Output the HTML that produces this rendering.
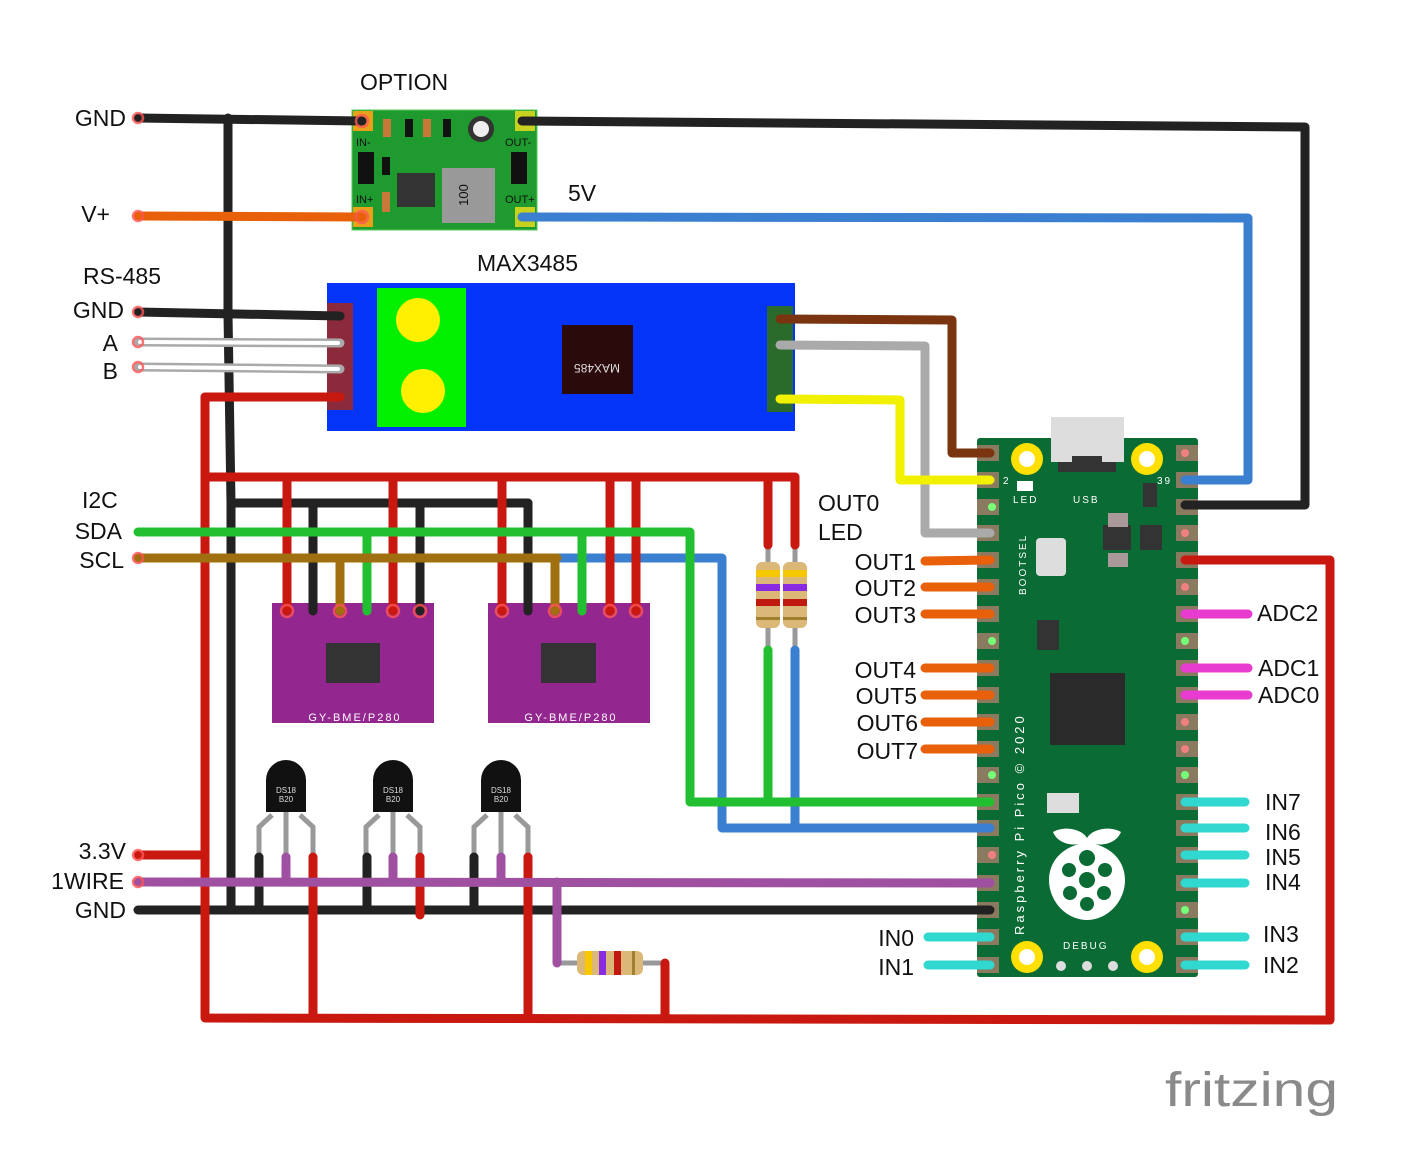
<!DOCTYPE html>
<html><head><meta charset="utf-8"><style>
html,body{margin:0;padding:0;background:#fff}
svg{display:block}
text{font-family:"Liberation Sans",sans-serif}
.w{fill:none;stroke-linejoin:round;stroke-linecap:round}
</style></head><body>
<svg width="1425" height="1173" viewBox="0 0 1425 1173" xmlns="http://www.w3.org/2000/svg">
<defs>
<g id="res">
<line x1="-20" y1="0" x2="88" y2="0" stroke="#999" stroke-width="5"/>
<rect x="0" y="-12" width="66" height="24" rx="6" fill="#dcb878"/>
<rect x="8" y="-12" width="7" height="24" fill="#f5c800"/>
<rect x="22" y="-12" width="7" height="24" fill="#8a2be2"/>
<rect x="37" y="-12" width="7" height="24" fill="#c01a10"/>
<rect x="55" y="-12" width="3" height="24" fill="#a08030"/>
</g>
</defs>
<rect width="1425" height="1173" fill="#fff"/>

<!-- DC-DC module -->
<rect x="352" y="110" width="185" height="120" fill="#1f9a2e" stroke="#5c5" stroke-width="1"/>
<rect x="353" y="111" width="20" height="20" fill="#e8a21a"/><rect x="353" y="207" width="20" height="20" fill="#e8a21a"/>
<rect x="515" y="111" width="20" height="20" fill="#c8d020"/><rect x="515" y="207" width="20" height="20" fill="#c8d020"/>
<rect x="383" y="119" width="8" height="18" fill="#c87838"/><rect x="405" y="119" width="8" height="18" fill="#111"/>
<rect x="423" y="119" width="8" height="18" fill="#c87838"/><rect x="443" y="119" width="8" height="18" fill="#111"/>
<circle cx="481" cy="129" r="13" fill="#333"/><circle cx="481" cy="129" r="8" fill="#eee"/>
<rect x="358" y="152" width="16" height="32" fill="#111"/><rect x="382" y="157" width="8" height="18" fill="#111"/>
<rect x="382" y="192" width="8" height="20" fill="#c87838"/>
<rect x="397" y="173" width="38" height="34" fill="#333"/>
<rect x="442" y="168" width="53" height="55" fill="#999"/>
<text x="468" y="195" font-size="13" fill="#111" transform="rotate(-90 468 195)" text-anchor="middle">100</text>
<rect x="511" y="152" width="16" height="32" fill="#111"/>
<text x="356" y="146" font-size="11" fill="#111">IN-</text><text x="505" y="146" font-size="11" fill="#111">OUT-</text>
<text x="356" y="203" font-size="11" fill="#111">IN+</text><text x="505" y="203" font-size="11" fill="#111">OUT+</text>

<!-- MAX3485 -->
<rect x="327" y="283" width="468" height="148" fill="#0434f8"/>
<rect x="377" y="288" width="89" height="139" fill="#00f000"/>
<circle cx="418" cy="320" r="22" fill="#ffef00"/><circle cx="423" cy="391" r="22" fill="#ffef00"/>
<rect x="562" y="325" width="71" height="69" fill="#2a0a0a"/>
<text x="597" y="354" font-size="12" fill="#ddd" text-anchor="middle" transform="rotate(180 597 359)">MAX485</text>
<rect x="327" y="303" width="26" height="107" fill="#8a2a3a"/>
<rect x="767" y="306" width="26" height="106" fill="#2a6a2a"/>

<!-- Pico -->
<rect x="977" y="438" width="221" height="539" fill="#0b6b35" rx="3"/>
<rect x="1051" y="417" width="73" height="45" fill="#ddd"/>
<path d="M1058 462h14v-6h30v6h14v10h-58z" fill="#333"/>
<g fill="#8a7a60">
<rect x="977" y="445" width="22" height="16"/><rect x="977" y="472" width="22" height="16"/><rect x="977" y="499" width="22" height="16"/><rect x="977" y="525" width="22" height="16"/><rect x="977" y="552" width="22" height="16"/><rect x="977" y="579" width="22" height="16"/><rect x="977" y="606" width="22" height="16"/><rect x="977" y="633" width="22" height="16"/><rect x="977" y="660" width="22" height="16"/><rect x="977" y="687" width="22" height="16"/><rect x="977" y="714" width="22" height="16"/><rect x="977" y="741" width="22" height="16"/><rect x="977" y="767" width="22" height="16"/><rect x="977" y="794" width="22" height="16"/><rect x="977" y="820" width="22" height="16"/><rect x="977" y="847" width="22" height="16"/><rect x="977" y="875" width="22" height="16"/><rect x="977" y="902" width="22" height="16"/><rect x="977" y="929" width="22" height="16"/><rect x="977" y="957" width="22" height="16"/>
<rect x="1176" y="445" width="22" height="16"/><rect x="1176" y="472" width="22" height="16"/><rect x="1176" y="499" width="22" height="16"/><rect x="1176" y="525" width="22" height="16"/><rect x="1176" y="552" width="22" height="16"/><rect x="1176" y="579" width="22" height="16"/><rect x="1176" y="606" width="22" height="16"/><rect x="1176" y="633" width="22" height="16"/><rect x="1176" y="660" width="22" height="16"/><rect x="1176" y="687" width="22" height="16"/><rect x="1176" y="714" width="22" height="16"/><rect x="1176" y="741" width="22" height="16"/><rect x="1176" y="767" width="22" height="16"/><rect x="1176" y="794" width="22" height="16"/><rect x="1176" y="820" width="22" height="16"/><rect x="1176" y="847" width="22" height="16"/><rect x="1176" y="875" width="22" height="16"/><rect x="1176" y="902" width="22" height="16"/><rect x="1176" y="929" width="22" height="16"/><rect x="1176" y="957" width="22" height="16"/>
</g>
<g fill="#f08080"><circle cx="1185" cy="453" r="4"/><circle cx="1185" cy="533" r="4"/><circle cx="1185" cy="587" r="4"/><circle cx="1185" cy="722" r="4"/><circle cx="1185" cy="749" r="4"/><circle cx="992" cy="855" r="4"/></g>
<g fill="#7f7"><circle cx="992" cy="507" r="4"/><circle cx="992" cy="641" r="4"/><circle cx="992" cy="775" r="4"/><circle cx="1185" cy="641" r="4"/><circle cx="1185" cy="775" r="4"/><circle cx="1185" cy="910" r="4"/></g>
<g fill="#ffe000"><circle cx="1027" cy="459" r="16"/><circle cx="1147" cy="459" r="16"/><circle cx="1027" cy="957" r="16"/><circle cx="1147" cy="957" r="16"/></g>
<g fill="#fff"><circle cx="1027" cy="459" r="8"/><circle cx="1147" cy="459" r="8"/><circle cx="1027" cy="957" r="8"/><circle cx="1147" cy="957" r="8"/></g>
<rect x="1036" y="538" width="30" height="38" rx="4" fill="#ddd"/>
<rect x="1103" y="525" width="28" height="25" fill="#333"/><rect x="1140" y="525" width="22" height="25" fill="#333"/>
<rect x="1143" y="483" width="14" height="24" fill="#333"/>
<rect x="1108" y="513" width="20" height="14" fill="#a99"/><rect x="1108" y="553" width="20" height="14" fill="#a99"/>
<rect x="1037" y="620" width="22" height="30" fill="#333"/>
<rect x="1050" y="673" width="75" height="72" fill="#2a2a2a"/>
<rect x="1047" y="793" width="32" height="20" fill="#ddd"/>
<rect x="1017" y="481" width="16" height="10" fill="#fff"/>
<path d="M1087 838c-6-10-24-12-34-6 4 10 16 14 26 12-22 6-30 22-30 36 0 22 18 40 38 40s38-18 38-40c0-14-8-30-30-36 10 2 22-2 26-12-10-6-28-4-34 6z" fill="#fff"/>
<g fill="#0b6b35"><circle cx="1087" cy="858" r="8"/><circle cx="1069" cy="870" r="7"/><circle cx="1105" cy="870" r="7"/><circle cx="1087" cy="880" r="8"/><circle cx="1070" cy="893" r="7"/><circle cx="1104" cy="893" r="7"/><circle cx="1087" cy="904" r="7"/></g>
<g fill="#fff" font-size="10" letter-spacing="2">
<text x="1003" y="484">2</text><text x="1157" y="484">39</text>
<text x="1013" y="503">LED</text><text x="1073" y="503">USB</text><text x="1063" y="949">DEBUG</text>
<text x="1026" y="595" transform="rotate(-90 1026 595)">BOOTSEL</text>
<text x="1024" y="935" font-size="13" letter-spacing="3" transform="rotate(-90 1024 935)">Raspberry Pi Pico © 2020</text>
</g>
<g fill="#ddd"><circle cx="1061" cy="966" r="5"/><circle cx="1087" cy="966" r="5"/><circle cx="1113" cy="966" r="5"/></g>

<!-- BME modules -->
<g fill="#93268f"><rect x="272" y="603" width="162" height="120"/><rect x="488" y="603" width="162" height="120"/></g>
<rect x="326" y="643" width="54" height="40" fill="#333"/><rect x="541" y="643" width="55" height="40" fill="#333"/>
<g fill="#fff" font-size="11" letter-spacing="2" text-anchor="middle"><text x="355" y="721">GY-BME/P280</text><text x="571" y="721">GY-BME/P280</text></g>

<!-- resistors -->
<g transform="translate(768,562) rotate(90)"><use href="#res"/></g>
<g transform="translate(795,562) rotate(90)"><use href="#res"/></g>
<g transform="translate(577,963)"><use href="#res"/></g>

<!-- DS18B20 -->
<g id="ds">
<path d="M259 857v-30l13-12M286 857v-45M313 857v-30l-13-12" stroke="#999" stroke-width="5" fill="none"/>
<path d="M266 812v-32a20 20 0 0 1 40 0v32z" fill="#111"/>
<text x="286" y="793" font-size="8" fill="#ddd" text-anchor="middle">DS18</text><text x="286" y="802" font-size="8" fill="#ddd" text-anchor="middle">B20</text>
</g>
<use href="#ds" x="107"/><use href="#ds" x="215"/>

<!-- wires -->
<g class="w" stroke-width="9">
<g stroke="#222">
<polyline points="138,118 362,121"/><polyline points="522,121 1305,127 1305,505 1185,505"/>
<polyline points="228,118 228,314 231,503 231,910"/>
<polyline points="138,312 340,316"/>
<polyline points="231,503 528,503"/><polyline points="313,503 313,611"/><polyline points="420,503 420,611"/><polyline points="528,503 528,611"/>
<polyline points="138,910 990,910"/><polyline points="259,857 259,910"/><polyline points="367,857 367,910"/><polyline points="474,857 474,910"/>
</g>
<g stroke="#e8600a"><polyline points="138,216 362,217"/>
<polyline points="925,561 990,560"/><polyline points="925,587 990,587"/><polyline points="925,614 990,614"/><polyline points="925,668 990,668"/><polyline points="925,695 990,695"/><polyline points="925,722 990,722"/><polyline points="925,749 990,749"/></g>
<g stroke="#3a7fd0"><polyline points="522,217 1248,218 1248,480 1185,480"/><polyline points="557,558 722,558 722,828 990,828"/><polyline points="795,650 795,828"/></g>
<g stroke="#aaa"><polyline points="138,342 340,343"/><polyline points="138,367 340,369"/><polyline points="780,345 925,346 925,533 990,533"/></g>
<g stroke="#fff" stroke-width="4"><polyline points="140,342 338,343"/><polyline points="140,367 338,369"/></g>
<g stroke="#c8180f"><polyline points="205,397 340,397"/><polyline points="205,397 205,1018 1330,1020 1330,560 1185,560"/>
<polyline points="205,477 795,477"/><polyline points="287,477 287,611"/><polyline points="393,477 393,611"/><polyline points="502,477 502,611"/><polyline points="610,477 610,611"/><polyline points="636,477 636,611"/><polyline points="768,477 768,545"/><polyline points="795,477 795,545"/>
<polyline points="138,855 205,855"/><polyline points="313,857 313,1018"/><polyline points="420,857 420,915"/><polyline points="528,857 528,1018"/><polyline points="665,963 665,1018"/></g>
<g stroke="#7a3510"><polyline points="780,319 952,320 952,453 990,453"/></g>
<g stroke="#f0f000"><polyline points="780,399 900,400 900,480 990,480"/></g>
<g stroke="#22c030"><polyline points="138,532 690,532 690,802 990,802"/><polyline points="367,532 367,611"/><polyline points="582,532 582,611"/><polyline points="768,650 768,802"/></g>
<g stroke="#a07010"><polyline points="138,558 557,558"/><polyline points="340,558 340,611"/><polyline points="555,558 555,611"/></g>
<g stroke="#a050a0"><polyline points="138,882 990,883"/><polyline points="286,857 286,882"/><polyline points="393,857 393,882"/><polyline points="501,857 501,882"/><polyline points="557,882 557,963"/></g>
<g stroke="#e83cd0"><polyline points="1185,614 1248,614"/><polyline points="1185,668 1248,668"/><polyline points="1185,695 1248,695"/></g>
<g stroke="#30d8d0"><polyline points="1185,802 1245,802"/><polyline points="1185,828 1245,828"/><polyline points="1185,855 1245,855"/><polyline points="1185,883 1245,883"/><polyline points="1185,937 1245,937"/><polyline points="1185,965 1245,965"/><polyline points="928,937 990,937"/><polyline points="928,965 990,965"/></g>
</g>
<g fill="none" stroke="#f55" stroke-width="2.5" opacity="0.8">
<circle cx="138" cy="118" r="5"/><circle cx="138" cy="216" r="5"/><circle cx="138" cy="312" r="5"/><circle cx="138" cy="342" r="5"/><circle cx="138" cy="367" r="5"/><circle cx="138" cy="558" r="5"/><circle cx="138" cy="855" r="5"/><circle cx="138" cy="882" r="5"/>
<circle cx="362" cy="121" r="6"/><circle cx="362" cy="217" r="6"/>
<circle cx="287" cy="611" r="6"/><circle cx="340" cy="611" r="6"/><circle cx="393" cy="611" r="6"/><circle cx="420" cy="611" r="6"/><circle cx="502" cy="611" r="6"/><circle cx="555" cy="611" r="6"/><circle cx="610" cy="611" r="6"/><circle cx="636" cy="611" r="6"/>
</g>

<!-- labels -->
<g font-size="23" fill="#111">
<text x="360" y="90">OPTION</text><text x="568" y="201">5V</text><text x="477" y="271">MAX3485</text>
<text x="126" y="126" text-anchor="end">GND</text><text x="110" y="222" text-anchor="end">V+</text>
<text x="83" y="284">RS-485</text><text x="124" y="318" text-anchor="end">GND</text><text x="118" y="351" text-anchor="end">A</text><text x="118" y="379" text-anchor="end">B</text>
<text x="82" y="508">I2C</text><text x="122" y="539" text-anchor="end">SDA</text><text x="124" y="568" text-anchor="end">SCL</text>
<text x="818" y="511">OUT0</text><text x="818" y="540">LED</text>
<g text-anchor="end"><text x="916" y="570">OUT1</text><text x="916" y="596">OUT2</text><text x="916" y="623">OUT3</text><text x="916" y="678">OUT4</text><text x="917" y="704">OUT5</text><text x="918" y="731">OUT6</text><text x="918" y="759">OUT7</text>
<text x="914" y="946">IN0</text><text x="914" y="975">IN1</text>
<text x="126" y="859">3.3V</text><text x="124" y="889">1WIRE</text><text x="126" y="918">GND</text></g>
<text x="1257" y="621">ADC2</text><text x="1258" y="676">ADC1</text><text x="1258" y="703">ADC0</text>
<text x="1265" y="810">IN7</text><text x="1265" y="840">IN6</text><text x="1265" y="865">IN5</text><text x="1265" y="890">IN4</text><text x="1263" y="942">IN3</text><text x="1263" y="973">IN2</text>
</g>
<text x="1165" y="1106" font-size="48" fill="#8a8a8a" textLength="173" lengthAdjust="spacingAndGlyphs">fritzing</text>
</svg>
</body></html>
